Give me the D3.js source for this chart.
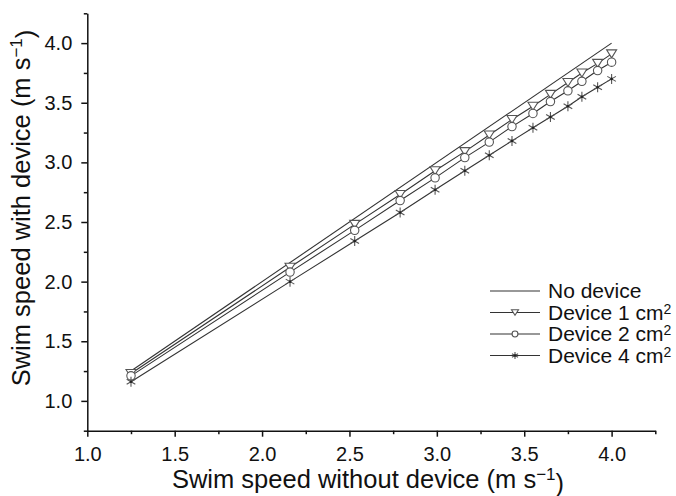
<!DOCTYPE html>
<html lang="en">
  <head>
    <title>Swim speed with device</title>
    <script type="text/javascript" src="https://d3js.org/d3.v7.min.js"></script>
    <style>
      body { margin: 0; background: #fff; }
      text { font-family: "Liberation Sans", Arial, Helvetica, sans-serif; fill: #111; }
    </style>
  </head>

  <body>
    <div id="my_dataviz"></div>

    <script>
      // values (m s-1)
      let speedNoDevice = [1.25, 2.16, 2.53, 2.79, 2.99, 3.16, 3.30, 3.43, 3.55, 3.65, 3.75, 3.83, 3.92, 4.00];
      let device1 = [1.23, 2.12, 2.48, 2.73, 2.93, 3.09, 3.23, 3.36, 3.47, 3.57, 3.67, 3.75, 3.83, 3.91];
      let device2 = [1.21, 2.08, 2.43, 2.68, 2.87, 3.04, 3.17, 3.30, 3.41, 3.51, 3.60, 3.68, 3.77, 3.84];
      let device4 = [1.16, 2.00, 2.34, 2.58, 2.77, 2.93, 3.06, 3.18, 3.29, 3.38, 3.47, 3.55, 3.63, 3.70];
      let noDevice = [1.25, 4.00];   // y = x reference line, start and end

      let seriesNames = ["No device", "Device 1 cm", "Device 2 cm", "Device 4 cm"];
      let majorTicks = [1.0, 1.5, 2.0, 2.5, 3.0, 3.5, 4.0];
      let xMinor = [1.25, 1.75, 2.25, 2.75, 3.25, 3.75, 4.25];
      let yMinor = [0.75, 1.25, 1.75, 2.25, 2.75, 3.25, 3.75, 4.25];

      let width = 676, height = 496;

      let svg = d3.select("#my_dataviz")
        .append("svg")
          .attr("width", width)
          .attr("height", height);

      let x = d3.scaleLinear().domain([1.0, 4.25]).range([87.3, 655.3]);
      let y = d3.scaleLinear().domain([0.75, 4.25]).range([430.7, 13.3]);

      let fmt = d3.format(".1f");

      // x axis: major then minor ticks
      svg.append("g")
        .attr("transform", "translate(0," + y(0.75) + ")")
        .call(d3.axisBottom(x).tickValues(majorTicks).tickFormat(fmt)
          .tickSize(6).tickSizeOuter(0).tickPadding(10));
      svg.append("g")
        .attr("transform", "translate(0," + y(0.75) + ")")
        .call(d3.axisBottom(x).tickValues(xMinor).tickFormat("").tickSize(3.5).tickSizeOuter(0))
        .select(".domain").remove();

      // y axis
      svg.append("g")
        .attr("transform", "translate(" + x(1.0) + ",0)")
        .call(d3.axisLeft(y).tickValues(majorTicks).tickFormat(fmt)
          .tickSize(6).tickSizeOuter(0).tickPadding(9));
      svg.append("g")
        .attr("transform", "translate(" + x(1.0) + ",0)")
        .call(d3.axisLeft(y).tickValues(yMinor).tickFormat("").tickSize(3.5).tickSizeOuter(0))
        .select(".domain").remove();

      svg.selectAll(".domain, .tick line").attr("stroke", "#111").attr("stroke-width", 1.5);
      svg.selectAll(".tick text").style("font-size", "20px").attr("fill", "#111");

      // axis titles
      let xt = svg.append("text")
        .attr("x", 368)
        .attr("y", 488)
        .attr("text-anchor", "middle")
        .style("font-size", "25.5px")
        .text("Swim speed without device (m s");
      xt.append("tspan").attr("dy", "-0.45em").style("font-size", "17px").text("\u22121");
      xt.append("tspan").attr("dy", "0.45em").text(")");

      let yt = svg.append("text")
        .attr("transform", "translate(30,208) rotate(-90)")
        .attr("text-anchor", "middle")
        .style("font-size", "25.5px")
        .text("Swim speed with device (m s");
      yt.append("tspan").attr("dy", "-0.45em").style("font-size", "17px").text("\u22121");
      yt.append("tspan").attr("dy", "0.45em").text(")");

      let lineColor = "#333";
      let markColor = "#555";

      // reference line
      svg.append("path")
        .datum(noDevice)
        .attr("fill", "none")
        .attr("stroke", lineColor)
        .attr("stroke-width", 1.1)
        .attr("d", d3.line().x(d => x(d)).y(d => y(d)));

      let devices = [device1, device2, device4];
      let shapes = ["tri", "circle", "star"];

      function drawMark(g, shape, size) {
        if (shape === "tri") {
          let w = size, h = size * 0.8;
          g.append("path")
            .attr("d", "M" + (-w / 2) + "," + (-h / 2) + "L" + (w / 2) + "," + (-h / 2) + "L0," + (h / 2) + "Z")
            .attr("fill", "#fff").attr("stroke", markColor).attr("stroke-width", 1.1);
        } else if (shape === "circle") {
          g.append("circle").attr("r", size * 0.42)
            .attr("fill", "#fff").attr("stroke", markColor).attr("stroke-width", 1.1);
        } else {
          let r = size / 2;
          [90, 30, -30].forEach(function(a) {
            let rad = a * Math.PI / 180;
            g.append("line")
              .attr("x1", -r * Math.cos(rad)).attr("y1", -r * Math.sin(rad))
              .attr("x2", r * Math.cos(rad)).attr("y2", r * Math.sin(rad))
              .attr("stroke", markColor).attr("stroke-width", 1.1);
          });
          g.append("circle").attr("r", 1.3).attr("fill", "#222");
        }
      }

      devices.forEach(function(vals, k) {
        let pts = speedNoDevice.map(function(s, i) { return {x: s, y: vals[i]}; });
        svg.append("path")
          .datum(pts)
          .attr("fill", "none")
          .attr("stroke", lineColor)
          .attr("stroke-width", 1.1)
          .attr("d", d3.line().x(d => x(d.x)).y(d => y(d.y)));
        pts.forEach(function(p) {
          let g = svg.append("g").attr("transform", "translate(" + x(p.x) + "," + y(p.y) + ")");
          drawMark(g, shapes[k], 10);
        });
      });

      // legend
      let legend = svg.append("g").attr("transform", "translate(490,291)");
      seriesNames.forEach(function(name, k) {
        let row = legend.append("g").attr("transform", "translate(0," + (k * 21.5) + ")");
        row.append("line")
          .attr("x1", 0).attr("x2", 50).attr("y1", 0).attr("y2", 0)
          .attr("stroke", lineColor).attr("stroke-width", 1.1);
        if (k > 0) {
          let g = row.append("g").attr("transform", "translate(25,0)");
          drawMark(g, shapes[k - 1], 7);
        }
        let t = row.append("text")
          .attr("x", 58).attr("y", 0).attr("dy", "0.35em")
          .style("font-size", "21px")
          .text(name);
        if (k > 0) {
          t.append("tspan").attr("dy", "-0.45em").style("font-size", "14px").text("2");
        }
      });
    </script>

  </body>
</html>
